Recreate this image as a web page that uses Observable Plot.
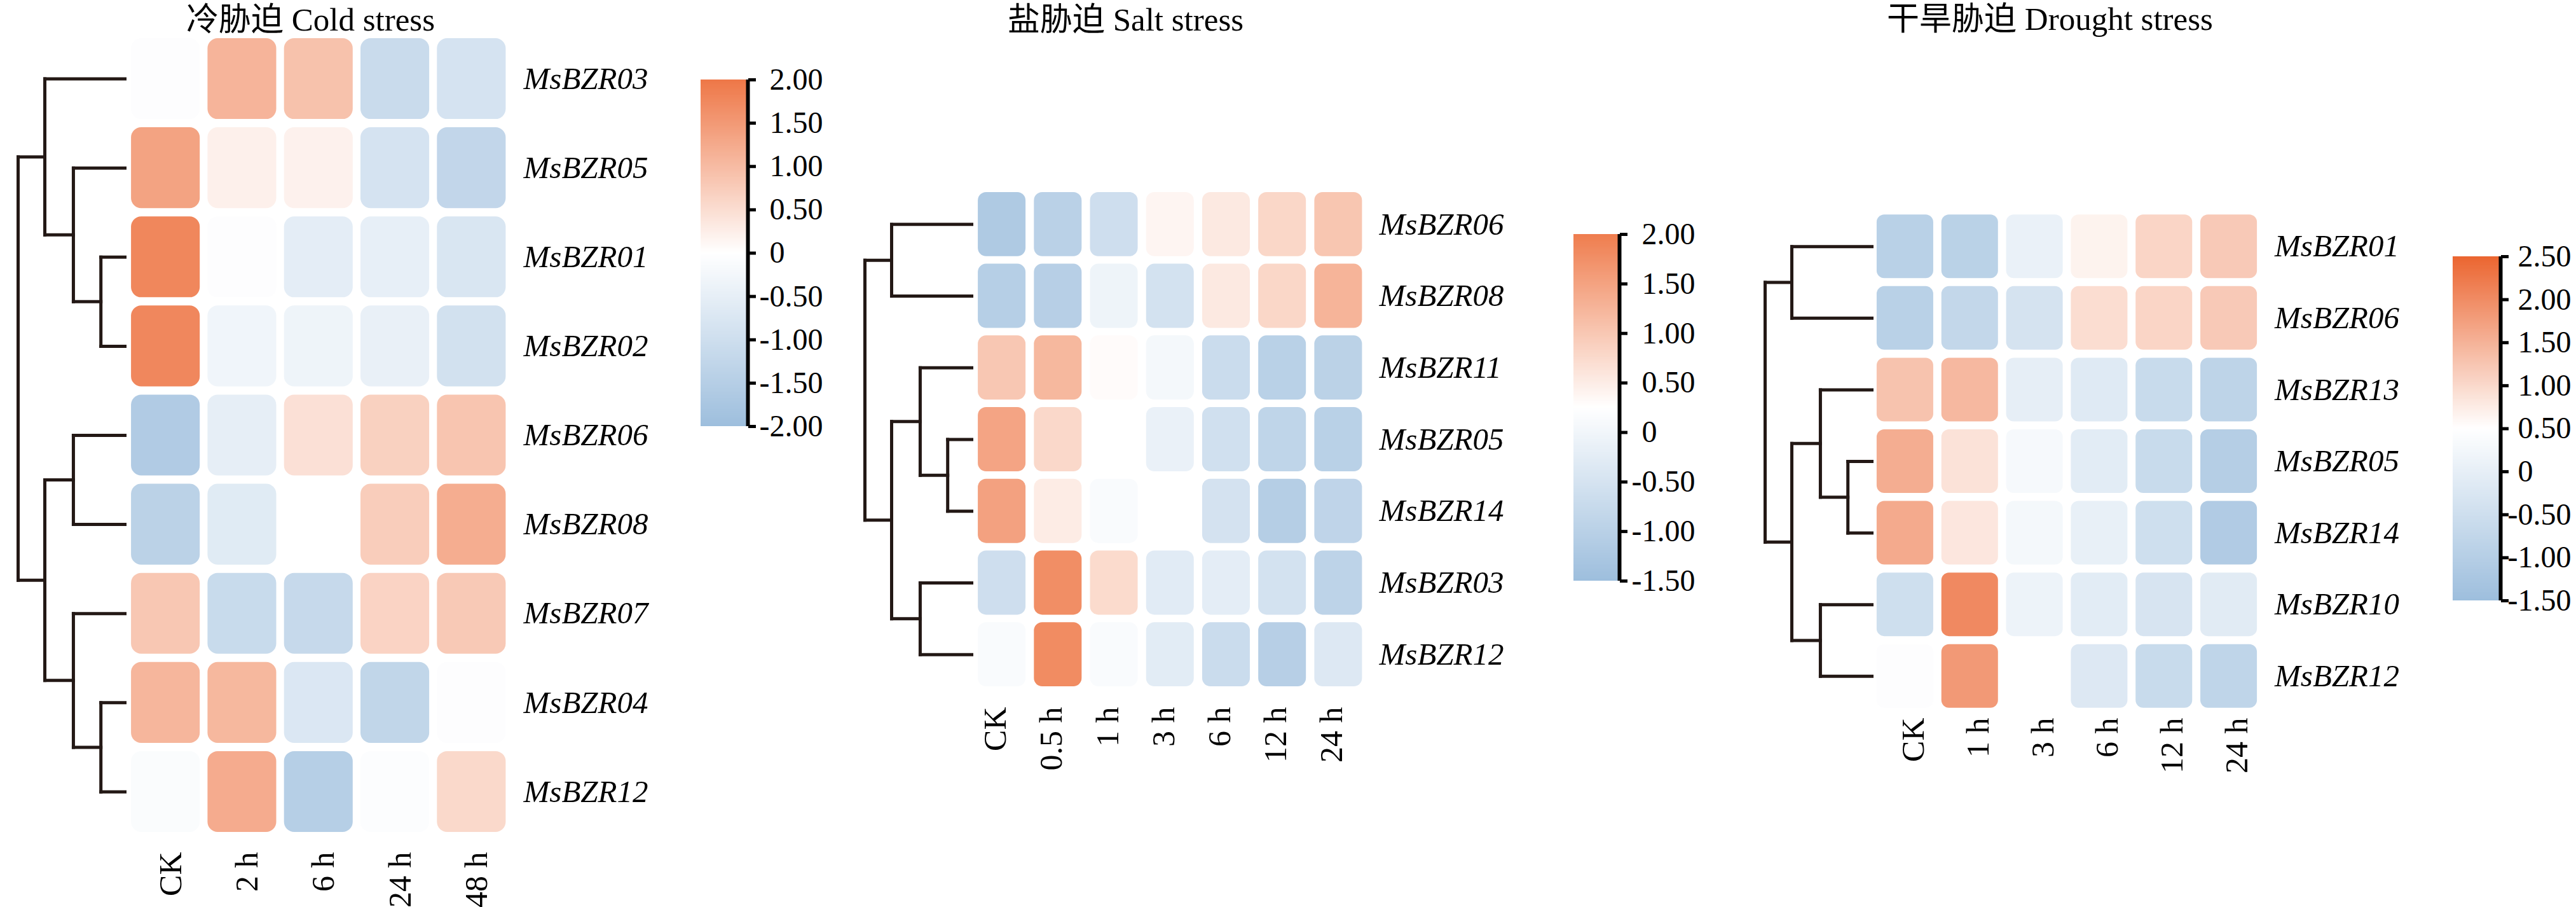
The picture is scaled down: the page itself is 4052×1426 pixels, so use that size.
<!DOCTYPE html>
<html>
<head>
<meta charset="utf-8">
<script src="https://cdn.jsdelivr.net/npm/d3@7"></script>
<script src="https://cdn.jsdelivr.net/npm/@observablehq/plot@0.6"></script>
<style>
  body { margin: 0; background: #ffffff; }
  #chart { position: relative; width: 4052px; height: 1426px; overflow: hidden; background: #ffffff; }
  #chart svg { position: absolute; left: 0; top: 0; }
</style>
</head>
<body>
<div id="chart"></div>
<script>
// ---------------- DATA ----------------
const coldTitle = "冷胁迫 Cold stress";
const coldTimes = ["CK", "2 h", "6 h", "24 h", "48 h"];
const coldGenes = ["MsBZR03", "MsBZR05", "MsBZR01", "MsBZR02", "MsBZR06", "MsBZR08", "MsBZR07", "MsBZR04", "MsBZR12"];
const coldValues = [
  [-0.05, 1.10, 0.90, -1.10, -0.85],
  [ 1.36, 0.22, 0.20, -0.85, -1.25],
  [ 1.77, -0.05, -0.55, -0.50, -0.78],
  [ 1.76, -0.30, -0.35, -0.45, -0.92],
  [-1.60, -0.52, 0.45, 0.68, 0.86],
  [-1.39, -0.63, 0.00, 0.74, 1.21],
  [ 0.83, -1.12, -1.16, 0.64, 0.79],
  [ 1.08, 1.05, -0.73, -1.27, -0.05],
  [-0.10, 1.23, -1.49, -0.07, 0.56]
];
const coldTree = {h: 4, c: [
  {h: 3, c: ["MsBZR03", {h: 1.93, c: ["MsBZR05", {h: 0.9, c: ["MsBZR01", "MsBZR02"]}]}]},
  {h: 3, c: [{h: 1.93, c: ["MsBZR06", "MsBZR08"]}, {h: 1.93, c: ["MsBZR07", {h: 0.9, c: ["MsBZR04", "MsBZR12"]}]}]}
]};
const coldTicks = [2, 1.5, 1, 0.5, 0, -0.5, -1, -1.5, -2];

const saltTitle = "盐胁迫 Salt stress";
const saltTimes = ["CK", "0.5 h", "1 h", "3 h", "6 h", "12 h", "24 h"];
const saltGenes = ["MsBZR06", "MsBZR08", "MsBZR11", "MsBZR05", "MsBZR14", "MsBZR03", "MsBZR12"];
const saltValues = [
  [-1.18, -0.98, -0.63, 0.38, 0.55, 0.79, 1.02],
  [-1.05, -1.03, -0.05, -0.54, 0.55, 0.79, 1.26],
  [ 1.00, 1.21, 0.30, 0.05, -0.70, -1.00, -0.97],
  [ 1.47, 0.77, 0.25, -0.12, -0.59, -0.89, -1.00],
  [ 1.51, 0.51, 0.15, 0.25, -0.52, -1.07, -0.90],
  [-0.63, 1.77, 0.74, -0.29, -0.23, -0.54, -0.93],
  [ 0.15, 1.80, 0.15, -0.27, -0.70, -1.03, -0.36]
];
const saltTree = {h: 4, c: [
  {h: 3, c: ["MsBZR06", "MsBZR08"]},
  {h: 3, c: [{h: 1.93, c: ["MsBZR11", {h: 0.9, c: ["MsBZR05", "MsBZR14"]}]}, {h: 1.93, c: ["MsBZR03", "MsBZR12"]}]}
]};
const saltTicks = [2, 1.5, 1, 0.5, 0, -0.5, -1, -1.5];

const droughtTitle = "干旱胁迫 Drought stress";
const droughtTimes = ["CK", "1 h", "3 h", "6 h", "12 h", "24 h"];
const droughtGenes = ["MsBZR01", "MsBZR06", "MsBZR13", "MsBZR05", "MsBZR14", "MsBZR10", "MsBZR12"];
const droughtValues = [
  [-0.93, -0.90, 0.07, 0.66, 1.05, 1.20],
  [-0.92, -0.72, -0.36, 0.94, 1.05, 1.20],
  [ 1.28, 1.42, -0.01, -0.15, -0.62, -0.83],
  [ 1.56, 0.88, 0.32, -0.09, -0.62, -1.01],
  [ 1.60, 0.82, 0.27, 0.03, -0.50, -1.10],
  [-0.50, 2.03, 0.13, -0.09, -0.32, -0.12],
  [ 0.45, 1.82, 0.50, -0.20, -0.62, -0.80]
];
const droughtTree = {h: 4, c: [
  {h: 3, c: ["MsBZR01", "MsBZR06"]},
  {h: 3, c: [{h: 1.93, c: ["MsBZR13", {h: 0.9, c: ["MsBZR05", "MsBZR14"]}]}, {h: 1.93, c: ["MsBZR10", "MsBZR12"]}]}
]};
const droughtTicks = [2.5, 2, 1.5, 1, 0.5, 0, -0.5, -1, -1.5];

// ---------------- LAYOUT / STYLE ----------------
const W = 4052, H = 1426;
const SERIF = "'Liberation Serif','Times New Roman','Noto Sans CJK SC',serif";
const INK = "#231815";
const BLUE = "#9DBEDD";

const panels = [
  {title: coldTitle, times: coldTimes, genes: coldGenes, values: coldValues, tree: coldTree, ticks: coldTicks,
   orange: "#EE7747",
   x0: 200, x1: 801.5, y0: 53.5, y1: 1314.5, insetX: 6.1, insetY: 6.5, rx: 16,
   labelPad: 21.5, colPad: 24.5, colDx: 8, titleX: 488, titleBase: 47, leafX: 196, step: 42,
   barX0: 1102, barX1: 1176, barTop: 125, barBottom: 670, tickPad: 22},
  {title: saltTitle, times: saltTimes, genes: saltGenes, values: saltValues, tree: saltTree, ticks: saltTicks,
   orange: "#EF7D4E",
   x0: 1531.5, x1: 2149, y0: 296, y1: 1085, insetX: 6.6, insetY: 5.9, rx: 13,
   labelPad: 20, colPad: 26, colDx: -10, titleX: 1770, titleBase: 47, leafX: 1528, step: 42,
   barX0: 2475, barX1: 2547, barTop: 368, barBottom: 913, tickPad: 23},
  {title: droughtTitle, times: droughtTimes, genes: droughtGenes, values: droughtValues, tree: droughtTree, ticks: droughtTicks,
   orange: "#EB6530",
   x0: 2945.5, x1: 3556.5, y0: 331, y1: 1119, insetX: 6.4, insetY: 6.3, rx: 12,
   labelPad: 21, colPad: 9, colDx: 13, titleX: 3224, titleBase: 46, leafX: 2944, step: 42,
   barX0: 3858, barX1: 3933, barTop: 403, barBottom: 944, tickPad: 15}
];

function colorScale(p) {
  const hi = d3.max(p.ticks), lo = d3.min(p.ticks);
  return {type: "linear", domain: [lo, (lo + hi) / 2, hi], range: [BLUE, "#ffffff", p.orange], interpolate: "rgb", clamp: true};
}

const fmt = d => d === 0 ? "0" : d.toFixed(2);
const chart = document.getElementById("chart");

for (const p of panels) {
  const cells = p.genes.flatMap((g, i) => p.times.map((t, j) => ({gene: g, time: t, value: p.values[i][j]})));

  // heatmap
  const heat = Plot.plot({
    width: W, height: H,
    marginLeft: p.x0, marginRight: W - p.x1, marginTop: p.y0, marginBottom: H - p.y1,
    style: {background: "transparent", overflow: "visible"},
    x: {type: "band", domain: p.times, padding: 0, round: false, axis: null, label: null},
    y: {type: "band", domain: p.genes, padding: 0, round: false, axis: null, label: null},
    color: colorScale(p),
    marks: [
      Plot.cell(cells, {x: "time", y: "gene", fill: "value", rx: p.rx,
        insetLeft: p.insetX, insetRight: p.insetX, insetTop: p.insetY, insetBottom: p.insetY}),
      Plot.axisY({anchor: "right", label: null, tickSize: 0, tickPadding: p.labelPad, fontSize: 49,
        fontStyle: "italic", fontFamily: SERIF, fill: "#000"}),
      Plot.text(p.times, {x: d => d, text: d => d, frameAnchor: "bottom", dy: p.colPad, dx: p.colDx,
        rotate: -90, textAnchor: "end", lineAnchor: "middle", fontSize: 50, fontFamily: SERIF, fill: "#000"}),
      Plot.text([p.title], {text: d => d, frameAnchor: "top", dx: p.titleX - (p.x0 + p.x1) / 2,
        dy: p.titleBase - p.y0, lineAnchor: "bottom", textAnchor: "middle", fontSize: 51, fontFamily: SERIF, fill: "#000"})
    ]
  });
  chart.appendChild(heat);

  // dendrogram
  const segs = [];
  const walk = node => {
    if (typeof node === "string") return {y: p.genes.indexOf(node), h: 0};
    const kids = node.c.map(walk);
    const ys = kids.map(k => k.y);
    const ymin = d3.min(ys), ymax = d3.max(ys);
    segs.push({x1: node.h, x2: node.h, y1: ymin, y2: ymax});
    for (const k of kids) segs.push({x1: k.h, x2: node.h, y1: k.y, y2: k.y});
    return {y: (ymin + ymax) / 2, h: node.h};
  };
  walk(p.tree);
  const n = p.genes.length;
  const dendro = Plot.plot({
    width: W, height: H,
    style: {background: "transparent", overflow: "visible"},
    x: {type: "linear", domain: [0, 4], range: [p.leafX, p.leafX - 4 * p.step], axis: null, label: null},
    y: {type: "linear", domain: [-0.5, n - 0.5], range: [p.y0, p.y1], axis: null, label: null},
    marks: [
      Plot.link(segs, {x1: "x1", y1: "y1", x2: "x2", y2: "y2", stroke: INK, strokeWidth: 5, strokeLinecap: "square"})
    ]
  });
  chart.appendChild(dendro);

  // colour bar
  const lo = d3.min(p.ticks), hi = d3.max(p.ticks);
  const N = 300, s = (hi - lo) / N;
  const ramp = d3.range(N).map(i => lo + i * s);
  const bar = Plot.plot({
    width: W, height: H,
    marginLeft: p.barX0, marginRight: W - p.barX1, marginTop: p.barTop, marginBottom: H - p.barBottom,
    style: {background: "transparent", overflow: "visible"},
    x: {type: "linear", domain: [0, 1], axis: null, label: null},
    y: {type: "linear", domain: [lo, hi], axis: null, label: null},
    color: colorScale(p),
    marks: [
      Plot.rect(ramp, {x1: 0, x2: 1, y1: d => d, y2: d => Math.min(hi, d + 1.6 * s), fill: d => d + s / 2, shapeRendering: "crispEdges"}),
      Plot.ruleX([1], {y1: lo, y2: hi, stroke: "#000", strokeWidth: 6}),
      Plot.axisY(p.ticks.filter(d => d >= 0), {anchor: "right", label: null, tickSize: 12, tickPadding: p.tickPad,
        strokeWidth: 5, fontSize: 48, fontFamily: SERIF, tickFormat: fmt, fill: "#000", stroke: "#000"}),
      Plot.axisY(p.ticks.filter(d => d < 0), {anchor: "right", label: null, tickSize: 12, tickPadding: p.tickPad - 16,
        strokeWidth: 5, fontSize: 48, fontFamily: SERIF, tickFormat: fmt, fill: "#000", stroke: "#000"})
    ]
  });
  chart.appendChild(bar);
}
</script>
</body>
</html>
